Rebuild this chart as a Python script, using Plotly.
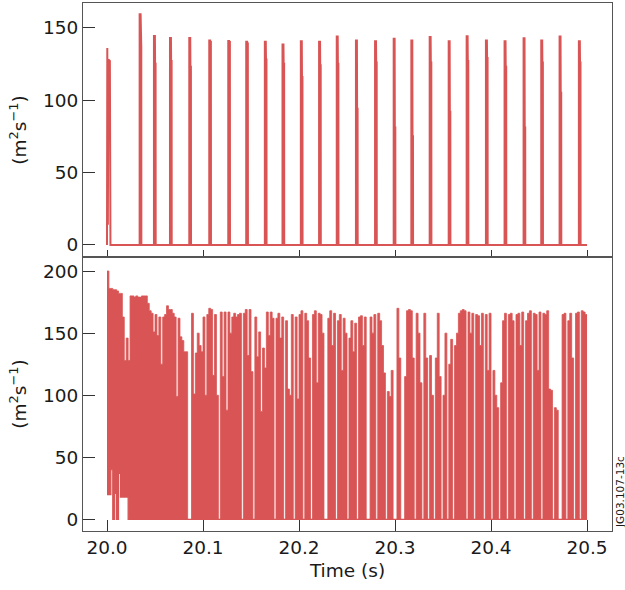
import plotly.graph_objects as go

RED = "#d95555"
FONT = "DejaVu Sans"

# ---------------- top panel: isolated spikes ----------------
top_start, top_end = 20.0, 20.5
# first burst at 20.000 s (time, value)
top_first_t = [20.0000, 20.0003, 20.0009, 20.0014, 20.0030, 20.0036]
top_first_v = [0, 136, 14, 128, 127, 0]
# later spikes: time, peak, trailing value
top_spike_t = [20.0340, 20.0489, 20.0656, 20.0857, 20.1065, 20.1263, 20.1450,
               20.1644, 20.1828, 20.2019, 20.2209, 20.2393, 20.2593, 20.2792,
               20.2986, 20.3170, 20.3361, 20.3559, 20.3746, 20.3947, 20.4141,
               20.4339, 20.4523, 20.4714, 20.4915]
top_spike_peak = [159.2, 144.2, 142.9, 142.9, 141.2, 140.8, 140.3, 140.3, 138.3,
                  140.6, 140.3, 143.8, 141.2, 140.6, 142.4, 141.2, 143.5, 140.6,
                  144.0, 141.2, 140.6, 142.6, 141.2, 143.8, 140.6]
top_spike_tail = [137, 125, 127, 123, 140, 140, 139, 128, 125, 116, 124, 125, 94,
                  126, 81, 75, 126, 92, 127, 129, 123, 81, 126, 105, 126]

# ---------------- bottom panel: dense signal (2 ms bins) ----------------
bot_start = 20.0
bot_dt = 0.002
bot_hi = [
    200, 186, 186, 185, 185, 184, 182, 182, 163, 128,
    146, 128, 180, 180, 179, 180, 179, 179, 180, 180,
    180, 174, 168, 166, 151, 165, 148, 163, 125, 163,
    165, 172, 169, 169, 166, 163, 99, 162, 147, 144,
    135, 135, 0, 0, 166, 101, 134, 150, 140, 135,
    163, 100, 165, 170, 169, 116, 165, 100, 0, 167,
    115, 167, 88, 167, 150, 163, 166, 163, 165, 166,
    0, 166, 169, 132, 169, 119, 0, 163, 131, 151,
    87, 138, 122, 167, 148, 167, 162, 0, 162, 166,
    146, 163, 0, 160, 105, 100, 165, 0, 163, 97,
    165, 168, 0, 166, 160, 130, 0, 165, 168, 110,
    166, 165, 150, 0, 0, 162, 168, 140, 166, 0,
    160, 165, 120, 162, 150, 0, 146, 160, 135, 158,
    0, 163, 164, 140, 163, 0, 0, 163, 150, 165,
    0, 166, 160, 140, 118, 0, 103, 99, 120, 0,
    0, 170, 130, 0, 0, 115, 168, 169, 168, 130,
    0, 166, 150, 110, 0, 166, 130, 0, 132, 100,
    0, 130, 166, 115, 0, 100, 150, 0, 125, 145,
    0, 140, 150, 166, 168, 169, 168, 0, 167, 150,
    166, 0, 165, 164, 140, 166, 0, 165, 120, 166,
    0, 120, 100, 90, 0, 110, 160, 166, 0, 165,
    166, 160, 0, 165, 166, 140, 167, 0, 160, 166,
    168, 0, 166, 165, 120, 167, 0, 166, 165, 168,
    105, 104, 0, 90, 88, 0, 0, 165, 166, 0,
    160, 166, 130, 0, 166, 167, 0, 168, 167, 165,
]
bot_lo = [20, 20, 40, 0, 21, 0, 37, 18, 18, 18, 18, 0] + [0] * (len(bot_hi) - 12)

x_ticks = [20.0, 20.1, 20.2, 20.3, 20.4, 20.5]
top_yticks = [0, 50, 100, 150]
bot_yticks = [0, 50, 100, 150, 200]

# ---------------- build traces ----------------
tx, ty = [top_start], [0]
tx += top_first_t
ty += top_first_v
for t, p, s in zip(top_spike_t, top_spike_peak, top_spike_tail):
    tx += [t, t, t + 0.0010, t + 0.0012, t + 0.0017, t + 0.0018]
    ty += [0, p, p, s, s, 0]
tx.append(top_end)
ty.append(0)

n = len(bot_hi)
bx = [bot_start + bot_dt * k for k in range(n + 1)]
b_hi = bot_hi + [bot_hi[-1]]
b_lo = bot_lo + [bot_lo[-1]]

fig = go.Figure()
fig.add_trace(go.Scatter(x=tx, y=ty, mode="lines", line=dict(color=RED, width=2),
                         xaxis="x", yaxis="y", hoverinfo="skip", showlegend=False))
fig.add_trace(go.Scatter(x=bx, y=b_lo, mode="lines", line=dict(color=RED, width=1.2, shape="hv"),
                         xaxis="x2", yaxis="y2", hoverinfo="skip", showlegend=False))
fig.add_trace(go.Scatter(x=bx, y=b_hi, mode="lines", line=dict(color=RED, width=0.8, shape="hv"),
                         fill="tonexty", fillcolor=RED,
                         xaxis="x2", yaxis="y2", hoverinfo="skip", showlegend=False))

split = (531 - 257) / 528
XR = [19.975, 20.526]
TXT = "#1a1a1a"
common_axis = dict(showline=True, mirror=True, linecolor="#555555", linewidth=1.2,
                   showgrid=False, zeroline=False, tickcolor="#333", tickwidth=1.3,
                   automargin=False,
                   tickfont=dict(family=FONT, size=18.5, color=TXT))

fig.update_layout(
    width=625, height=590,
    margin=dict(l=83, r=13, t=3, b=59, autoexpand=False),
    paper_bgcolor="white", plot_bgcolor="white",
    font=dict(family=FONT, size=18.5, color=TXT),
    xaxis=dict(domain=[0, 1], anchor="y", range=XR, tickvals=x_ticks,
               ticks="inside", ticklen=7, showticklabels=False, **common_axis),
    yaxis=dict(domain=[split, 1], anchor="x", range=[-8.3, 167], tickvals=top_yticks,
               ticks="inside", ticklen=12,
               title=dict(text="(m<sup>2</sup>s<sup>−1</sup>)", standoff=11,
                          font=dict(family=FONT, size=18.5, color=TXT)),
               **common_axis),
    xaxis2=dict(domain=[0, 1], anchor="y2", range=XR, tickvals=x_ticks,
                ticktext=[f"{v:.1f}" for v in x_ticks],
                ticks="inside", ticklen=11,
                title=dict(text="Time (s)", standoff=6,
                           font=dict(family=FONT, size=18.5, color=TXT)),
                **common_axis),
    yaxis2=dict(domain=[0, split], anchor="x2", range=[-9.3, 211.3], tickvals=bot_yticks,
                ticks="inside", ticklen=12,
                title=dict(text="(m<sup>2</sup>s<sup>−1</sup>)", standoff=11,
                           font=dict(family=FONT, size=18.5, color=TXT)),
                **common_axis),
)

fig.add_annotation(text="JG03.107-13c", xref="paper", yref="paper",
                   x=(620 - 83) / 529, y=(531 - 492) / 528, textangle=-90,
                   xanchor="center", yanchor="middle",
                   showarrow=False, font=dict(family=FONT, size=10.5, color=TXT))

fig.write_html("out.html", config={"displayModeBar": False},
               post_script="document.body.style.margin='0';document.body.style.padding='0';")
